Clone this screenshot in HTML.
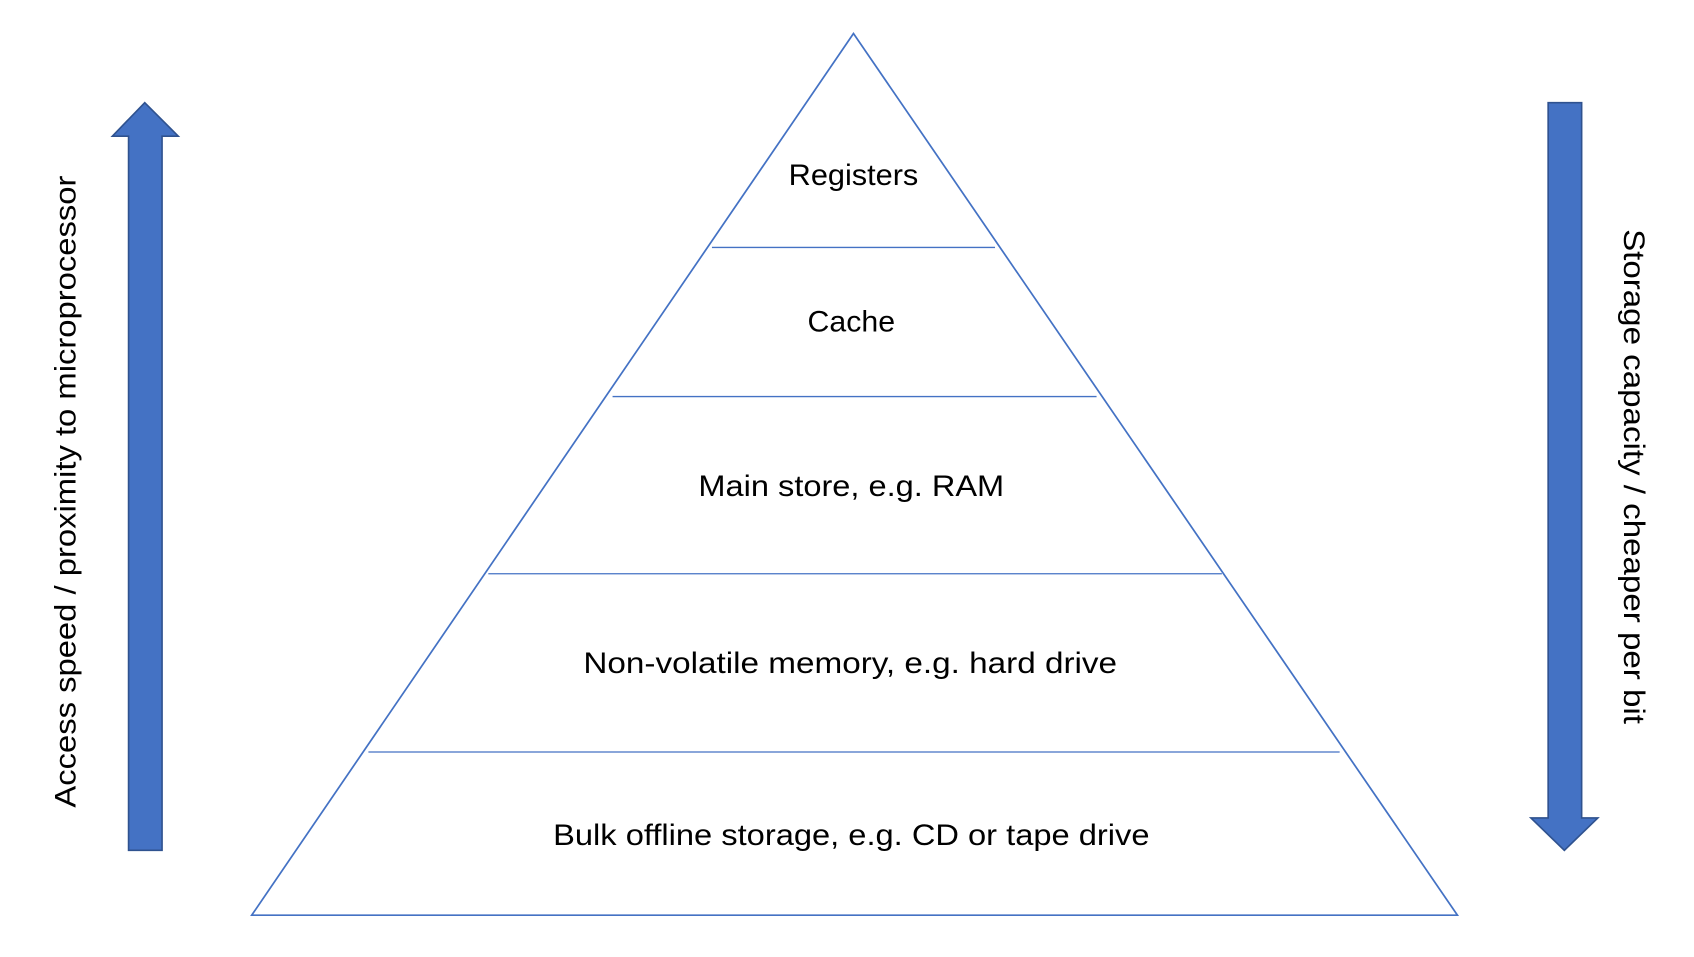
<!DOCTYPE html>
<html><head><meta charset="utf-8"><style>html,body{margin:0;padding:0;background:#fff;}svg{display:block}</style></head>
<body>
<svg width="1694" height="957" viewBox="0 0 1568 885.7" preserveAspectRatio="none" xmlns="http://www.w3.org/2000/svg">
<rect width="1568" height="885.7" fill="#fff"/>
<polygon points="790,31 233,847 1349,847" fill="none" stroke="#4472C4" stroke-width="1.6"/>
<g stroke="#4472C4" stroke-width="1.2">
<line x1="659" y1="229" x2="921" y2="229"/>
<line x1="567" y1="367" x2="1015" y2="367"/>
<line x1="452" y1="531" x2="1131" y2="531"/>
<line x1="341" y1="696" x2="1240" y2="696"/>
</g>
<g font-family="Liberation Sans, sans-serif" font-size="27" fill="#000" text-anchor="middle">
<text x="790" y="171" textLength="120" lengthAdjust="spacingAndGlyphs">Registers</text>
<text x="788" y="307" textLength="81" lengthAdjust="spacingAndGlyphs">Cache</text>
<text x="788" y="459" textLength="283" lengthAdjust="spacingAndGlyphs">Main store, e.g. RAM</text>
<text x="787" y="623" textLength="494" lengthAdjust="spacingAndGlyphs">Non-volatile memory, e.g. hard drive</text>
<text x="788" y="782" textLength="552" lengthAdjust="spacingAndGlyphs">Bulk offline storage, e.g. CD or tape drive</text>
</g>
<polygon points="134,95 165,126 150,126 150,787 119,787 119,126 104,126" fill="#4472C4" stroke="#2F528F" stroke-width="1.5"/>
<polygon points="1433,95 1464,95 1464,757 1479,757 1448,787 1417,757 1433,757" fill="#4472C4" stroke="#2F528F" stroke-width="1.5"/>
<g font-family="Liberation Sans, sans-serif" font-size="27" fill="#000" text-anchor="middle">
<text transform="translate(70,455) rotate(-90)" textLength="585" lengthAdjust="spacingAndGlyphs">Access speed / proximity to microprocessor</text>
<text transform="translate(1503,441) rotate(90)" textLength="458" lengthAdjust="spacingAndGlyphs">Storage capacity / cheaper per bit</text>
</g>
</svg>
</body></html>
